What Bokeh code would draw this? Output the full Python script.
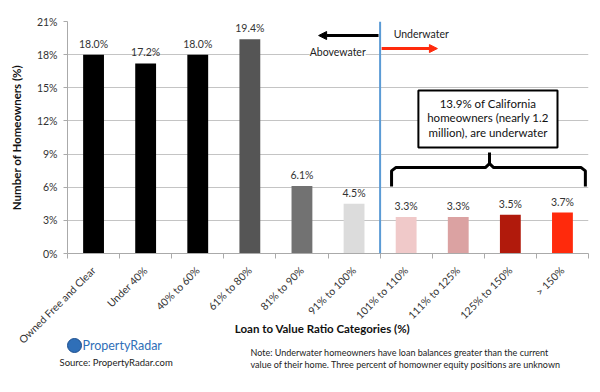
import math
from bokeh.plotting import figure
from bokeh.layouts import column
from bokeh.core.properties import value
from bokeh.models import (ColumnDataSource, FixedTicker, Label, LabelSet, Span,
                          Range1d, Arrow, NormalHead, PrintfTickFormatter)
from bokeh.embed import file_html
from bokeh.resources import INLINE

categories = ["Owned Free and Clear", "Under 40%", "40% to 60%", "61% to 80%",
              "81% to 90%", "91% to 100%", "101% to 110%", "111% to 125%",
              "125% to 150%", "> 150%"]
values = [18.0, 17.2, 18.0, 19.4, 6.1, 4.5, 3.3, 3.3, 3.5, 3.7]
colors = ["#000000", "#000000", "#000000", "#555555", "#727272", "#dcdcdc",
          "#f0c9c9", "#dba2a2", "#b11a0c", "#ff2a0c"]
y_ticks = [0, 3, 6, 9, 12, 15, 18, 21]

FONT = "Lato"
n = len(categories)
centers = [i + 0.5 for i in range(n)]
source = ColumnDataSource(dict(x=centers, top=values, color=colors,
                               label=[f"{v:.1f}%" for v in values]))

W, H = 600, 392
LEFT, RIGHT, TOP = 67, 12, 21
FRAME_BOTTOM = 253
H1 = 261
H2 = H - H1
px = (W - LEFT - RIGHT) / n

p = figure(width=W, height=H1, min_border_left=LEFT, min_border_right=RIGHT,
           min_border_top=TOP, min_border_bottom=H1 - FRAME_BOTTOM,
           output_backend="svg", toolbar_location=None,
           x_range=Range1d(0, n), y_range=Range1d(0, 21))
p.outline_line_color = None
p.frame_align = False

p.vbar(x="x", top="top", width=0.4, color="color", source=source, line_color=None)
p.add_layout(LabelSet(x="x", y="top", text="label", source=source, y_offset=5,
                      text_align="center", text_baseline="bottom",
                      text_font_size="10.5px", text_font=value(FONT),
                      text_color="#333333"))

p.xgrid.grid_line_color = None
p.ygrid.grid_line_color = "#c4c4c4"
p.ygrid.ticker = FixedTicker(ticks=y_ticks)
p.yaxis.ticker = FixedTicker(ticks=y_ticks)
p.yaxis.formatter = PrintfTickFormatter(format="%d%%")
p.yaxis.axis_line_color = "#aaaaaa"
p.yaxis.major_tick_line_color = "#aaaaaa"
p.yaxis.major_tick_out = 4
p.yaxis.major_tick_in = 0
p.yaxis.minor_tick_line_color = None
p.yaxis.major_label_text_font = FONT
p.yaxis.major_label_text_font_size = "10.5px"
p.yaxis.major_label_text_color = "#333333"
p.yaxis.major_label_standoff = 6
p.yaxis.axis_label = "Number of Homeowners (%)"
p.yaxis.axis_label_text_font = FONT
p.yaxis.axis_label_text_font_size = "11.5px"
p.yaxis.axis_label_text_font_style = "bold"
p.yaxis.axis_label_text_color = "#111111"
p.yaxis.axis_label_standoff = 11

p.xaxis.ticker = FixedTicker(ticks=centers, minor_ticks=list(range(n + 1)))
p.xaxis.major_label_overrides = {c: "" for c in centers}
p.xaxis.major_label_text_font_size = "0px"
p.xaxis.major_label_standoff = 0
p.xaxis.major_tick_line_color = None
p.xaxis.major_tick_out = 0
p.xaxis.minor_tick_line_color = "#aaaaaa"
p.xaxis.minor_tick_out = 5
p.xaxis.minor_tick_in = 0
p.xaxis.axis_line_color = "#aaaaaa"

# divider between above / under water
p.add_layout(Span(location=6, dimension="height", line_color="#5b9bd5", line_width=2))

p.add_layout(Arrow(x_start=5.97, y_start=19.73, x_end=4.82, y_end=19.73,
                   line_color="black", line_width=3,
                   end=NormalHead(size=8, fill_color="black", line_color="black")))
p.add_layout(Arrow(x_start=6.03, y_start=18.55, x_end=7.1, y_end=18.55,
                   line_color="#ff2a0c", line_width=3,
                   end=NormalHead(size=8, fill_color="#ff2a0c", line_color="#ff2a0c")))
p.add_layout(Label(x=6.26, y=19.9, text="Underwater", text_font=FONT,
                   text_font_size="10.5px", text_baseline="middle", text_color="#222222"))
p.add_layout(Label(x=4.65, y=18.28, text="Abovewater", text_font=FONT,
                   text_font_size="10.5px", text_baseline="middle", text_color="#222222",
                   background_fill_color="white"))

# callout box
p.rect(x=8.07, y=12.17, width=2.67, height=5.16, fill_color="white",
       line_color="black", line_width=2)
for yy, t in zip([13.55, 12.3, 10.95], ["13.9% of California",
                                        "homeowners (nearly 1.2",
                                        "million), are underwater"]):
    p.add_layout(Label(x=8.07, y=yy, text=t, text_font=FONT, text_font_size="11.5px",
                       text_align="center", text_baseline="middle", text_color="#111111"))

# brace
bx0, bx1, bxc = 6.22, 9.94, 8.10
yb, ym, yt = 6.06, 7.78, 9.14
p.multi_line(xs=[[bx0, bx0, bx0 + 0.08, bxc - 0.08, bxc, bxc],
                 [bx1, bx1, bx1 - 0.08, bxc + 0.08, bxc]],
             ys=[[yb, ym - 0.3, ym, ym, ym + 0.35, yt],
                 [yb, ym - 0.3, ym, ym, ym + 0.35]],
             line_color="black", line_width=3)

# footer figure: same horizontal scale as the main frame, vertical unit = px
f = figure(width=W, height=H2, min_border=0, output_backend="svg",
           toolbar_location=None, x_axis_type=None, y_axis_type=None,
           x_range=Range1d(-LEFT / px, n + RIGHT / px), y_range=Range1d(0, H2))
f.outline_line_color = None
f.grid.visible = False
f.frame_align = False


def fx(page_x):
    return (page_x - LEFT) / px


def fy(page_y):
    return H - page_y


cat_src = ColumnDataSource(dict(x=centers, y=[fy(268)] * n, text=categories))
f.add_layout(LabelSet(x="x", y="y", text="text", source=cat_src, angle=math.pi / 4,
                      text_align="right", text_baseline="middle", text_font=value(FONT),
                      text_font_size="10.5px", text_color="#333333"))

f.add_layout(Label(x=fx(322), y=fy(328), text="Loan to Value Ratio Categories (%)",
                   text_font=FONT, text_font_size="11.5px", text_font_style="bold",
                   text_align="center", text_baseline="middle", text_color="#111111"))
f.add_layout(Label(x=fx(250), y=fy(352),
                   text="Note: Underwater homeowners have loan balances greater than the current",
                   text_font=FONT, text_font_size="9px", text_baseline="middle",
                   text_color="#222222"))
f.add_layout(Label(x=fx(250), y=fy(364),
                   text="value of their home. Three percent of homowner equity positions are unknown",
                   text_font=FONT, text_font_size="9px", text_baseline="middle",
                   text_color="#222222"))
f.scatter(x=[fx(74)], y=[fy(345)], size=14, fill_color="#2f6fb8",
          line_color="#1d4f8f", line_width=1)
f.add_layout(Label(x=fx(82), y=fy(345), text="PropertyRadar", text_font=FONT,
                   text_font_size="12.5px", text_baseline="middle", text_color="#2f6fb8"))
f.add_layout(Label(x=fx(59), y=fy(362), text="Source: PropertyRadar.com",
                   text_font=FONT, text_font_size="9.5px", text_baseline="middle",
                   text_color="#222222"))

layout = column(p, f, spacing=0)
open("out.html", "w").write(file_html(layout, INLINE))
